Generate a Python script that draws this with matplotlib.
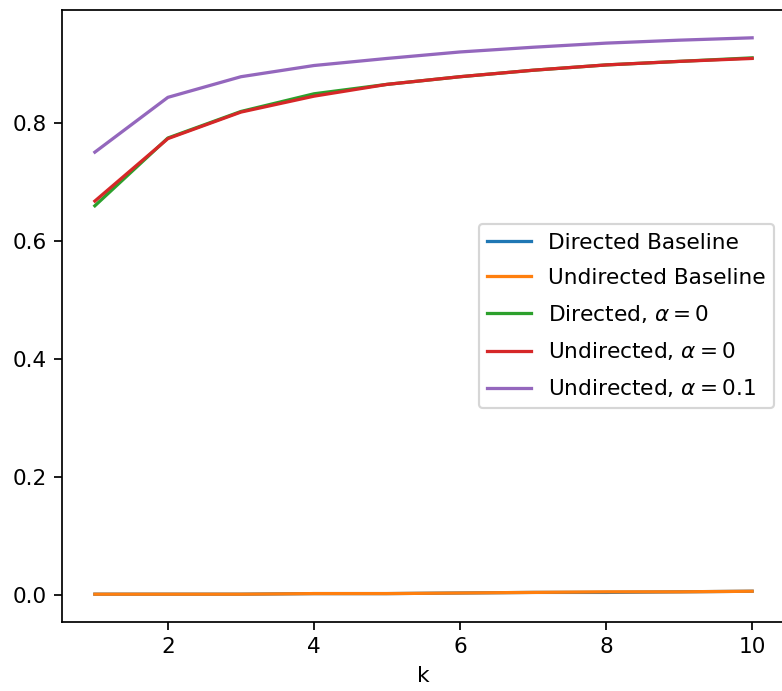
import numpy as np
import matplotlib
matplotlib.use("Agg")
import matplotlib.pyplot as plt

# values
k = [1, 2, 3, 4, 5, 6, 7, 8, 9, 10]
directed_baseline = [0.001, 0.001, 0.001, 0.002, 0.002, 0.003, 0.004, 0.004, 0.005, 0.006]
undirected_baseline = [0.001, 0.001, 0.001, 0.002, 0.002, 0.003, 0.004, 0.005, 0.005, 0.006]
directed_a0 = [0.660, 0.775, 0.820, 0.850, 0.866, 0.879, 0.890, 0.899, 0.905, 0.911]
undirected_a0 = [0.668, 0.774, 0.819, 0.846, 0.866, 0.879, 0.890, 0.899, 0.905, 0.910]
undirected_a01 = [0.751, 0.844, 0.879, 0.898, 0.910, 0.921, 0.929, 0.936, 0.941, 0.945]

dpi = 156
fig = plt.figure(figsize=(782 / dpi, 691 / dpi), dpi=dpi)
# axes runs slightly past the right edge, as in the cropped reference
ax = fig.add_axes([62 / 782, 1 - 622 / 691, (785 - 62) / 782, (622 - 10) / 691])

ax.plot(k, directed_baseline, label="Directed Baseline")
ax.plot(k, undirected_baseline, label="Undirected Baseline")
ax.plot(k, directed_a0, label=r"Directed, $\alpha=0$")
ax.plot(k, undirected_a0, label=r"Undirected, $\alpha=0$")
ax.plot(k, undirected_a01, label=r"Undirected, $\alpha=0.1$")

ax.set_xlabel("k")
ax.legend(loc="center right", labelspacing=0.7)

fig.savefig("out.png", dpi=dpi)
